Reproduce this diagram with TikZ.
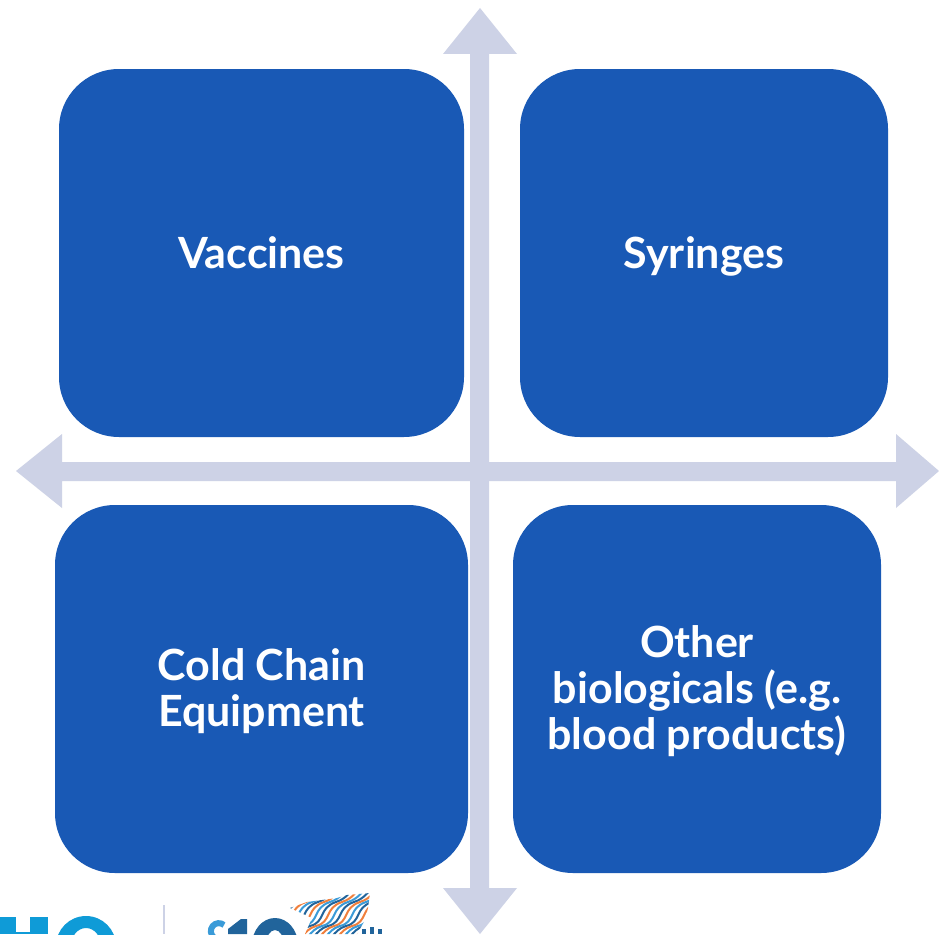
\documentclass[tikz,border=0pt]{standalone}
\usepackage{fontspec}
\setmainfont{Lato}
\definecolor{boxblue}{HTML}{1959B5}
\definecolor{axisc}{HTML}{CDD2E6}
\definecolor{whoc}{HTML}{0F9BD7}
\definecolor{darkl}{HTML}{21649B}
\definecolor{lightl}{HTML}{3A9BD8}
\definecolor{orangel}{HTML}{F07F3C}
\tikzset{
 quad/.style={fill=boxblue,draw=none,text=white,font=\fontsize{43pt}{46pt}\selectfont\bfseries,align=center,inner sep=0pt,rounded corners=60pt,minimum height=368pt},
 wave/.style={line width=2pt,line cap=round},
}
\begin{document}
\begin{tikzpicture}[x=1pt,y=1pt]
\useasboundingbox (0,0) rectangle (939,-934);
\fill[white] (0,0) rectangle (939,-934);
% axes
\fill[axisc] (470,-885) -- (470,-54) -- (443,-54) -- (480,-8) -- (517,-54) -- (489,-54) -- (489,-888) -- (517,-888) -- (480,-934) -- (443,-888) -- (470,-888) -- cycle;
\fill[axisc] (62,-462) -- (62,-434) -- (16,-471) -- (62,-508) -- (62,-481) -- (896,-481) -- (896,-508) -- (939,-471) -- (896,-434) -- (896,-462) -- cycle;
% boxes
\node[quad,minimum width=405pt] (a) at (261.5,-253) {Vaccines};
\node[quad,minimum width=368pt,text height=31pt,text depth=0pt] (b) at (704,-253) {Syringes};
\node[quad,minimum width=413pt] (c) at (261.5,-689) {\rule{0pt}{37pt}Cold Chain\\Equipment};
\node[quad,minimum width=368pt] (d) at (697,-689) {\rule{0pt}{37pt}Other\\biologicals (e.g.\\blood products)};
% cropped logos at the bottom edge
\begin{scope}
\clip (0,-934) rectangle (400,-885);
% WHO fragment
\fill[whoc] (0,-917) rectangle (16,-934);
\fill[whoc] (30,-917) rectangle (48,-934);
\fill[whoc] (16,-932) rectangle (30,-934);
\fill[whoc,even odd rule] (86,-946) ellipse (30pt and 30pt) (86,-946) ellipse (15pt and 18pt);
% divider
\fill[axisc] (163,-905) rectangle (165,-934);
% anniversary mark
\draw[lightl,line width=6pt] (224,-925) arc (50:230:8pt);
\fill[darkl] (228,-934) -- (228,-929) -- (241,-919) -- (247,-919) -- (247,-934) -- cycle;
\fill[darkl,even odd rule] (275,-945) ellipse (23pt and 27pt) (275,-945) ellipse (9pt and 15pt);
\fill[darkl] (362,-934) rectangle (366,-929);
\fill[darkl] (370,-934) rectangle (374,-927);
\fill[darkl] (378,-934) rectangle (382,-929);
\begin{scope}
\clip (290,-908) -- (307,-902) -- (337,-898) -- (347,-895) -- (370,-893) -- (368,-908) -- (365,-920) -- (357,-934) -- (305,-934) -- (312,-918) -- cycle;
\foreach \x/\c in {228/darkl,234/orangel,240/lightl,246/darkl,252/orangel,258/lightl,264/darkl,270/orangel,276/lightl,282/darkl,288/orangel,294/lightl,300/darkl,306/orangel,312/lightl,318/darkl,324/orangel,330/lightl,336/darkl,342/orangel,348/lightl,354/darkl,360/lightl}{
 \draw[wave,\c] (\x,-944) .. controls (\x+14,-944) and (\x+14,-930) .. (\x+28,-926) .. controls (\x+44,-922) and (\x+36,-908) .. (\x+54,-902) .. controls (\x+66,-898) and (\x+66,-892) .. (\x+76,-886);
}
\end{scope}
\end{scope}
\end{tikzpicture}
\end{document}
